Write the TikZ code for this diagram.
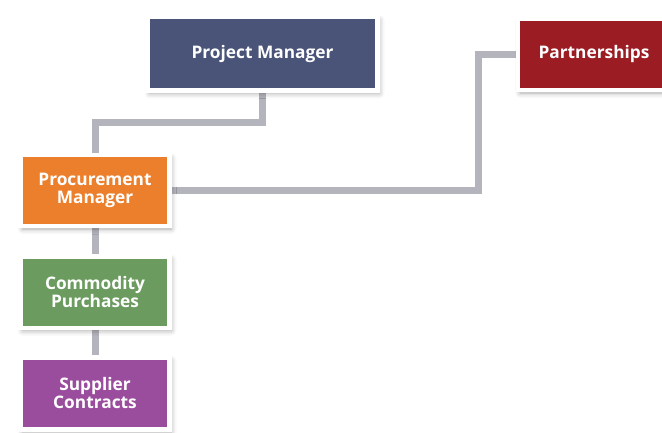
\documentclass[tikz,border=0pt]{standalone}
\usepackage{fontspec}
\setmainfont{Open Sans}
\usetikzlibrary{shadows.blur}
\definecolor{pmblue}{HTML}{4A5479}
\definecolor{partred}{HTML}{9B1C22}
\definecolor{procorange}{HTML}{EC7F2C}
\definecolor{commgreen}{HTML}{6B9B5E}
\definecolor{suppurple}{HTML}{9B4D9D}
\definecolor{linegray}{HTML}{B4B4BC}
\pgfdeclarelayer{background}
\pgfsetlayers{background,main}
\tikzset{
  orgbox/.style={draw=white, line width=4.5pt, inner sep=0pt, align=center,
    text=white, font=\fontsize{17.3}{18}\selectfont\bfseries,
    blur shadow={shadow xshift=2pt, shadow yshift=-3pt, shadow blur radius=5pt, shadow opacity=35}},
  conn/.style={draw=linegray, line width=7pt, line join=miter}
}
\begin{document}
\begin{tikzpicture}[x=1pt,y=-1pt]
\useasboundingbox (0,0) rectangle (662,432);
\clip (0,0) rectangle (662,432);
\node[orgbox, fill=pmblue, minimum width=230pt, minimum height=73.5pt] (pm) at (262.5,53.75) {Project Manager};
\node[orgbox, fill=partred, minimum width=152pt, minimum height=71pt] (part) at (594,54.5) {Partnerships};
\node[orgbox, fill=procorange, minimum width=149pt, minimum height=71pt] (proc) at (95,190.5) {Procurement\\Manager};
\node[orgbox, fill=commgreen, minimum width=149pt, minimum height=71.5pt] (comm) at (95,292) {Commodity\\Purchases};
\node[orgbox, fill=suppurple, minimum width=149pt, minimum height=72pt] (sup) at (95,393.5) {Supplier\\Contracts};
\coordinate (j1) at (95,122);
\coordinate (j2) at (478,190.5);
\begin{pgfonlayer}{background}
\draw[conn] (pm.south) |- (j1) -- (proc.north);
\draw[conn] (proc.east) -- (j2) |- (part.west);
\draw[conn] (proc.south) -- (comm.north);
\draw[conn] (comm.south) -- (sup.north);
\end{pgfonlayer}
\end{tikzpicture}
\end{document}
